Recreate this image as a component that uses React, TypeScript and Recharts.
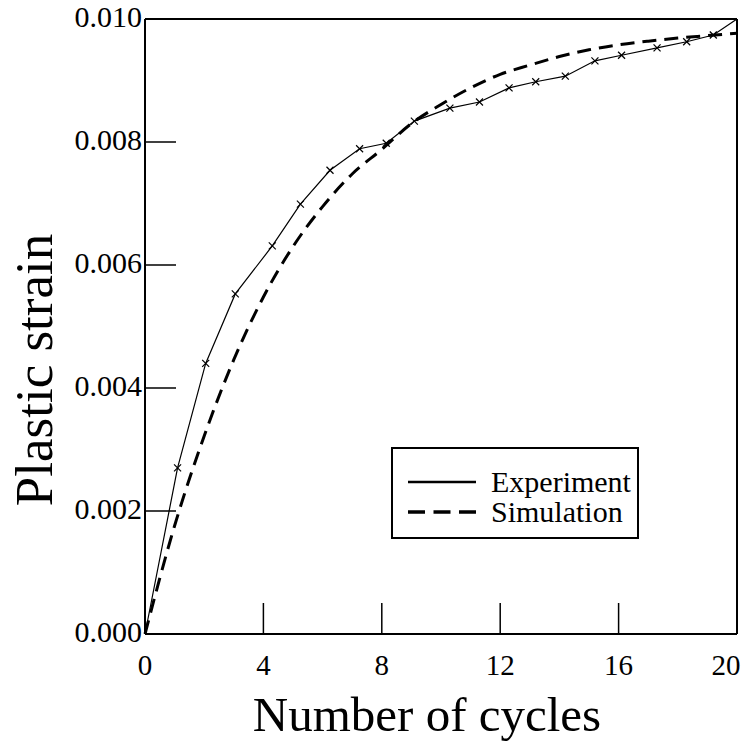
import { LineChart, Line, XAxis, YAxis, Legend } from "recharts";

const FONT = '"Liberation Serif", "Times New Roman", serif';

// experiment: measured points (x marks)
const expCycles = [0, 1.1, 2.05, 3.05, 4.3, 5.25, 6.25, 7.25, 8.15, 9.1, 10.3, 11.3, 12.3, 13.2, 14.2, 15.2, 16.1, 17.3, 18.3, 19.2, 20];
const expStrain = [0, 0.0027, 0.0044, 0.00553, 0.00631, 0.00699, 0.00754, 0.00789, 0.00798, 0.00834, 0.00855, 0.00865, 0.00888, 0.00898, 0.00907, 0.00932, 0.00941, 0.00953, 0.00963, 0.00974, 0.01];

// simulation curve
const simCycles = [0, 1, 2, 3, 4, 5, 6, 7, 8, 9, 10, 11, 12, 13, 14, 15, 16, 17, 18, 19, 20];
const simStrain = [0, 0.00176, 0.00322, 0.00446, 0.00548, 0.0063, 0.00695, 0.00748, 0.00788, 0.0083, 0.00861, 0.00888, 0.0091, 0.00925, 0.00939, 0.0095, 0.00958, 0.00964, 0.00969, 0.00973, 0.00977];

const xTicks = [0, 4, 8, 12, 16, 20];
const xInnerTicks = [4, 8, 12, 16];
const yTicks = [0, 0.002, 0.004, 0.006, 0.008, 0.01];
const yInnerTicks = [0.002, 0.004, 0.006, 0.008];

const expData = expCycles.map((x, i) => ({ x, y: expStrain[i] }));
const simData = simCycles.map((x, i) => ({ x, y: simStrain[i] }));

const TICK_LEN = 31;

function BottomTick({ x, y, payload }: any) {
  // last label sits inside the right edge like the original
  const tx = payload.value === 20 ? x - 11 : x;
  return (
    <g>
      <line x1={x} x2={x} y1={y} y2={y - TICK_LEN} stroke="#000" strokeWidth={1.5} />
      <text x={tx} y={y + 41} textAnchor="middle" fontSize={29} fontFamily={FONT} fill="#000">
        {payload.value}
      </text>
    </g>
  );
}

function TopTick({ x, y }: any) {
  return <line x1={x} x2={x} y1={y} y2={y + TICK_LEN + 4} stroke="#000" strokeWidth={1.5} />;
}

function LeftTick({ x, y, payload }: any) {
  return (
    <g>
      <line x1={x} x2={x + TICK_LEN} y1={y} y2={y} stroke="#000" strokeWidth={1.5} />
      <text x={x - 3} y={y + 8} textAnchor="end" fontSize={30} fontFamily={FONT} fill="#000">
        {Number(payload.value).toFixed(3)}
      </text>
    </g>
  );
}

function RightTick({ x, y }: any) {
  return <line x1={x} x2={x - TICK_LEN} y1={y} y2={y} stroke="#000" strokeWidth={1.5} />;
}

// small x marker on the experiment line
function CrossDot({ cx, cy, index }: any) {
  if (index === 0 || index === expData.length - 1) return <g key={index} />;
  const s = 3.5;
  return (
    <g key={index}>
      <line x1={cx - s} y1={cy - s} x2={cx + s} y2={cy + s} stroke="#000" strokeWidth={1.2} />
      <line x1={cx - s} y1={cy + s} x2={cx + s} y2={cy - s} stroke="#000" strokeWidth={1.2} />
    </g>
  );
}

function LegendBox({ payload }: any) {
  return (
    <div
      style={{
        border: "2px solid #000",
        background: "#fff",
        padding: "18px 0 0 14px",
        boxSizing: "border-box",
        width: 248,
        height: 92,
        fontFamily: FONT,
      }}
    >
      {(payload || []).map((entry: any) => (
        <div key={entry.value} style={{ display: "flex", alignItems: "center", height: 30 }}>
          <svg width={70} height={10} style={{ marginRight: 14 }}>
            <line
              x1={1}
              x2={69}
              y1={5}
              y2={5}
              stroke="#000"
              strokeWidth={entry.value === "Simulation" ? 3.5 : 2.5}
              strokeDasharray={entry.value === "Simulation" ? "17 8.5" : undefined}
            />
          </svg>
          <span style={{ fontSize: 30, lineHeight: "30px", color: "#000" }}>{entry.value}</span>
        </div>
      ))}
    </div>
  );
}

export default function App() {
  return (
    <div style={{ position: "absolute", left: 0, top: 0, background: "#fff" }}>
      <LineChart width={745} height={743} margin={{ top: 0, right: 0, bottom: 49, left: 0 }}>
        <XAxis
          xAxisId="b"
          dataKey="x"
          type="number"
          domain={[0, 20]}
          ticks={xTicks}
          height={60}
          tickSize={0}
          tickMargin={0}
          axisLine={{ stroke: "#000", strokeWidth: 2 }}
          tickLine={false}
          tick={BottomTick}
          interval={0}
          label={({ viewBox }: any) => (
            <text
              x={viewBox.x + viewBox.width / 2 - 14}
              y={viewBox.y + 97}
              textAnchor="middle"
              fontSize={49}
              fontFamily={FONT}
              fill="#000"
            >
              Number of cycles
            </text>
          )}
        />
        <XAxis
          xAxisId="t"
          orientation="top"
          dataKey="x"
          type="number"
          domain={[0, 20]}
          ticks={xInnerTicks}
          height={19}
          tickSize={0}
          tickMargin={0}
          axisLine={{ stroke: "#000", strokeWidth: 2 }}
          tickLine={false}
          tick={TopTick}
          interval={0}
        />
        <YAxis
          yAxisId="l"
          type="number"
          domain={[0, 0.01]}
          ticks={yTicks}
          width={145}
          tickSize={0}
          tickMargin={0}
          axisLine={{ stroke: "#000", strokeWidth: 2 }}
          tickLine={false}
          tick={LeftTick}
          interval={0}
          label={() => (
            <text
              x={52}
              y={370}
              transform={`rotate(-90 52 370)`}
              textAnchor="middle"
              fontSize={53}
              fontFamily={FONT}
              fill="#000"
            >
              Plastic strain
            </text>
          )}
        />
        <YAxis
          yAxisId="r"
          orientation="right"
          type="number"
          domain={[0, 0.01]}
          ticks={yInnerTicks}
          width={8}
          tickSize={0}
          tickMargin={0}
          axisLine={{ stroke: "#000", strokeWidth: 2 }}
          tickLine={false}
          tick={RightTick}
          interval={0}
        />
        <Line
          xAxisId="b"
          yAxisId="l"
          data={simData}
          dataKey="y"
          name="Simulation"
          type="monotone"
          stroke="#000"
          strokeWidth={3}
          strokeDasharray="14 8"
          dot={false}
          isAnimationActive={false}
        />
        <Line
          xAxisId="b"
          yAxisId="l"
          data={expData}
          dataKey="y"
          name="Experiment"
          type="linear"
          stroke="#000"
          strokeWidth={1.2}
          dot={CrossDot}
          isAnimationActive={false}
        />
        <Legend
          layout="vertical"
          align="center"
          verticalAlign="middle"
          content={LegendBox}
          wrapperStyle={{ left: 391, top: 447, width: 248, height: 92 }}
          itemSorter={(item: any) => (item.value === "Experiment" ? 0 : 1)}
        />
      </LineChart>
    </div>
  );
}
